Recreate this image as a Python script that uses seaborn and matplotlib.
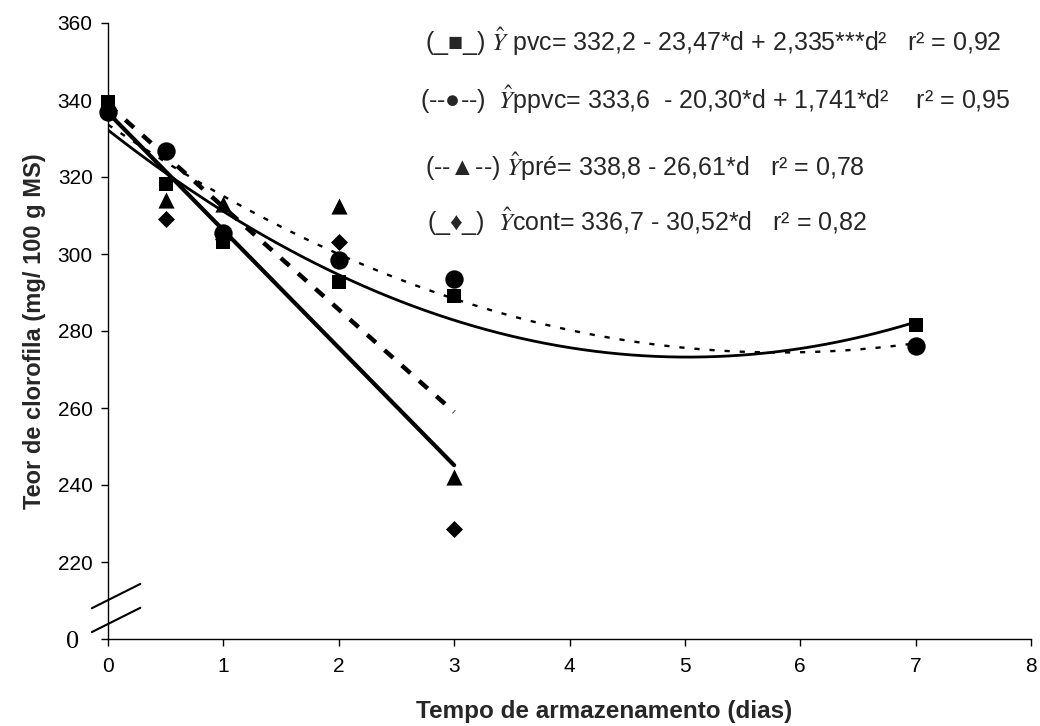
import numpy as np
import pandas as pd
import matplotlib
matplotlib.use("Agg")
import matplotlib.pyplot as plt
import seaborn as sns

days = [0, 0.5, 1, 2, 3, 7]
days_short = [0, 0.5, 1, 2, 3]
pvc = [339.6, 318.2, 303.0, 292.6, 289.2, 281.5]
ppvc = [337.0, 326.8, 305.5, 298.4, 293.5, 276.0]
pre = [338.0, 314.0, 313.0, 312.5, 242.2]
cont = [337.5, 309.0, 304.0, 303.2, 228.6]

# regression coefficients given in the figure text (highest power first)
coef_pvc = [2.335, -23.47, 332.2]
coef_ppvc = [1.741, -20.30, 333.6]
coef_pre = [-26.61, 338.8]
coef_cont = [-30.52, 336.7]

x_ticks = [0, 1, 2, 3, 4, 5, 6, 7, 8]
y_ticks = [200, 220, 240, 260, 280, 300, 320, 340, 360]
y_ticklabels = ["0  ", "220", "240", "260", "280", "300", "320", "340", "360"]

sns.set_style("ticks")
plt.rcParams["font.family"] = ["Liberation Sans", "DejaVu Sans"]
plt.rcParams["mathtext.fontset"] = "stix"

fig = plt.figure(figsize=(10.4, 7.26), dpi=100)
ax = fig.add_axes([108 / 1040, 1 - 639 / 726, (1031 - 108) / 1040, (639 - 23) / 726])

# fitted curves
long_grid = np.linspace(0, 7, 200)
short_grid = np.linspace(0, 3, 100)
sns.lineplot(x=long_grid, y=np.polyval(coef_pvc, long_grid), color="black", lw=2.0, ax=ax)
sns.lineplot(x=long_grid, y=np.polyval(coef_ppvc, long_grid), color="black", lw=1.7,
             ax=ax).lines[-1].set_dashes((2.2, 4.2))
sns.lineplot(x=short_grid, y=np.polyval(coef_pre, short_grid), color="black", lw=3.2,
             ax=ax).lines[-1].set_dashes((2.6, 2.6))
sns.lineplot(x=short_grid, y=np.polyval(coef_cont, short_grid), color="black", lw=3.0, ax=ax)

# observed points
obs = pd.DataFrame({"d": days_short + days_short + days + days,
                    "v": cont + pre + pvc + ppvc,
                    "s": ["cont"] * 5 + ["pre"] * 5 + ["pvc"] * 6 + ["ppvc"] * 6})
marks = {"pvc": ("s", 110), "ppvc": ("o", 175), "pre": ("^", 135), "cont": ("D", 75)}
for name, (m, size) in marks.items():
    sub = obs[obs["s"] == name]
    sns.scatterplot(data=sub, x="d", y="v", marker=m, s=size, color="black",
                    edgecolor="black", linewidth=0, ax=ax, zorder=3, clip_on=False)

ax.set_xlim(0, 8)
ax.set_ylim(200, 360)
ax.set_xticks(x_ticks)
ax.set_yticks(y_ticks)
ax.set_yticklabels(y_ticklabels)
ax.tick_params(labelsize=15, length=5, width=1, color="black", labelcolor="black")
ax.tick_params(axis="x", pad=8)
ax.tick_params(axis="y", pad=6)
ax.get_yticklabels()[0].set_fontfamily("Liberation Serif")
ax.get_yticklabels()[0].set_fontsize(19)
for sp in ["top", "right"]:
    ax.spines[sp].set_visible(False)
for sp in ["left", "bottom"]:
    ax.spines[sp].set_color("black")
    ax.spines[sp].set_linewidth(1)

ax.set_xlabel("Tempo de armazenamento (dias)", fontsize=17.5, fontweight="bold")
ax.xaxis.set_label_coords((604 - 108) / (1031 - 108), (639 - 700) / 616)
ax.set_ylabel("Teor de clorofila (mg/ 100 g MS)", fontsize=17, fontweight="bold", labelpad=8)

# axis break marks
for y0 in [201.8, 208.0]:
    ax.plot([-0.14, 0.28], [y0, y0 + 6.3], color="black", lw=1.5, clip_on=False)

# equations
fs = 18
fig.text(425 / 1040, 1 - 42 / 726, "(_■_) $\\hat{Y}$ pvc= 332,2 - 23,47*d + 2,335***d²   r² = 0,92",
         fontsize=fs, va="center")
fig.text(420 / 1040, 1 - 100 / 726, "(--●--)  $\\hat{Y}$ppvc= 333,6  - 20,30*d + 1,741*d²    r² = 0,95",
         fontsize=fs, va="center")
fig.text(425 / 1040, 1 - 167 / 726, "(--▲--) $\\hat{Y}$pré= 338,8 - 26,61*d   r² = 0,78",
         fontsize=fs, va="center")
fig.text(427 / 1040, 1 - 222 / 726, "(_♦_)  $\\hat{Y}$cont= 336,7 - 30,52*d   r² = 0,82",
         fontsize=fs, va="center")

fig.savefig("out.png", dpi=100)
